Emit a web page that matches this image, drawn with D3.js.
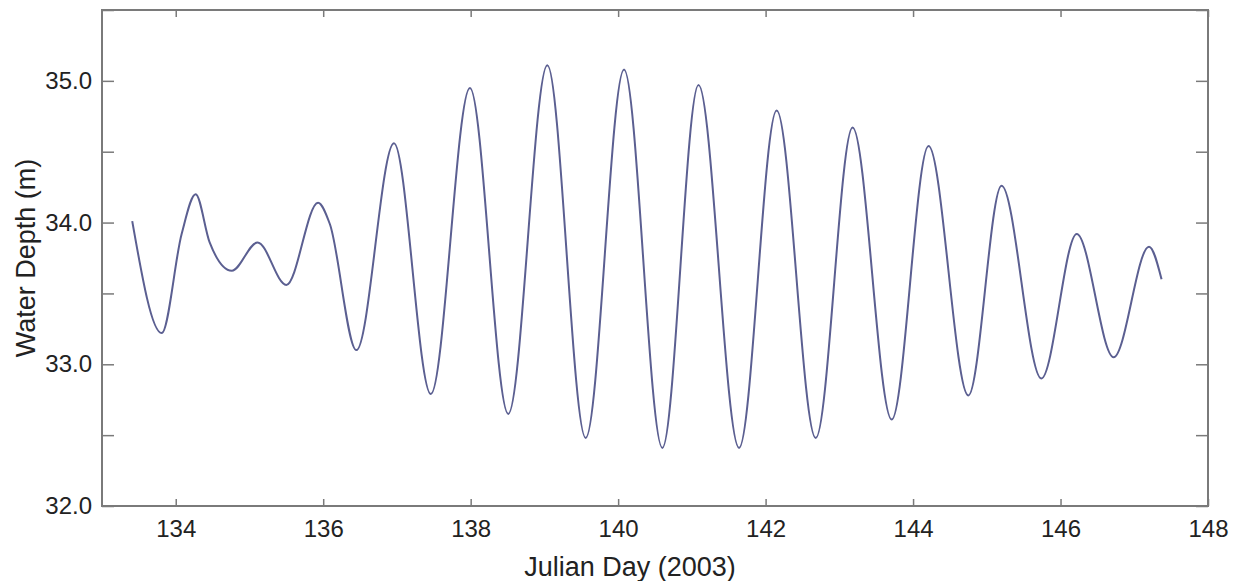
<!DOCTYPE html>
<html>
<head>
<meta charset="utf-8">
<script src="https://cdn.jsdelivr.net/npm/d3@7"></script>
<style>
    body { margin: 0; background: #fff; }
    text { font-family: "Liberation Sans", Arial, sans-serif; fill: #222; }
</style>
</head>
<body>
<svg id="drawing_region"></svg>
<script>
// julian day of each sample (extrema + a few shoulders)
const days = [
    133.41, 133.81, 134.08, 134.27, 134.46, 134.76, 135.11, 135.50, 135.93, 136.09,
    136.45, 136.96, 137.46, 137.99, 138.51, 139.04, 139.56, 140.08, 140.60, 141.09,
    141.64, 142.15, 142.68, 143.18, 143.71, 144.21, 144.75, 145.20, 145.74, 146.22,
    146.72, 147.20, 147.37
];
// water depth (m)
const depths = [
    34.01, 33.22, 33.92, 34.20, 33.86, 33.66, 33.86, 33.56, 34.14, 33.99,
    33.10, 34.56, 32.79, 34.95, 32.65, 35.11, 32.48, 35.08, 32.41, 34.97,
    32.41, 34.79, 32.48, 34.67, 32.61, 34.54, 32.78, 34.26, 32.90, 33.92,
    33.05, 33.83, 33.60
];
const xTicks = [134, 136, 138, 140, 142, 144, 146, 148];
const yTicks = [32.0, 32.5, 33.0, 33.5, 34.0, 34.5, 35.0, 35.5];
const yLabels = [32.0, 33.0, 34.0, 35.0];

const data = days.map((d, i) => ({ day: d, depth: depths[i] }));

const config = {
    width: 1244,
    height: 581,
    margin: { top: 10, right: 36, bottom: 75, left: 102 }
};

const svg = d3.select('#drawing_region')
    .attr('width', config.width)
    .attr('height', config.height);

const inner_width = config.width - config.margin.left - config.margin.right;
const inner_height = config.height - config.margin.top - config.margin.bottom;

const chart = svg.append('g')
    .attr('transform', `translate(${config.margin.left}, ${config.margin.top})`);

const xscale = d3.scaleLinear().domain([133, 148]).range([0, inner_width]);
const yscale = d3.scaleLinear().domain([32, 35.5]).range([inner_height, 0]);

const axisColor = '#7a7a7a';

// ticks, all pointing inward
const xaxis = d3.axisBottom(xscale).tickValues(xTicks).tickSize(-7).tickPadding(14).tickFormat(d3.format('d'));
const xaxisTop = d3.axisTop(xscale).tickValues(xTicks).tickSize(-7).tickFormat('');
const yaxis = d3.axisLeft(yscale).tickValues(yTicks).tickSize(-12).tickPadding(10)
    .tickFormat(d => yLabels.includes(d) ? d3.format('.1f')(d) : '');
const yaxisRight = d3.axisRight(yscale).tickValues(yTicks).tickSize(-12).tickFormat('');

function styleAxis(g) {
    g.select('.domain').remove();
    g.selectAll('.tick line').attr('stroke', axisColor).attr('stroke-width', 1.5);
    g.selectAll('.tick text').attr('font-size', 24).attr('fill', '#222')
        .attr('font-family', '"Liberation Sans", Arial, sans-serif');
}

chart.append('g').attr('transform', `translate(0, ${inner_height})`).call(xaxis).call(styleAxis);
chart.append('g').call(xaxisTop).call(styleAxis);
chart.append('g').call(yaxis).call(styleAxis);
chart.append('g').attr('transform', `translate(${inner_width}, 0)`).call(yaxisRight).call(styleAxis);

chart.append('rect')
    .attr('x', 0).attr('y', 0)
    .attr('width', inner_width).attr('height', inner_height)
    .attr('fill', 'none')
    .attr('stroke', axisColor)
    .attr('stroke-width', 2);

const line = d3.line()
    .x(d => xscale(d.day))
    .y(d => yscale(d.depth))
    .curve(d3.curveMonotoneX);

chart.append('path')
    .datum(data)
    .attr('d', line)
    .attr('fill', 'none')
    .attr('stroke', '#5b5f91')
    .attr('stroke-width', 2);

svg.append('text')
    .attr('x', 630)
    .attr('y', 576)
    .attr('text-anchor', 'middle')
    .attr('font-size', 27)
    .text('Julian Day (2003)');

svg.append('text')
    .attr('transform', `translate(35, ${config.margin.top + inner_height / 2}) rotate(-90)`)
    .attr('text-anchor', 'middle')
    .attr('font-size', 27)
    .text('Water Depth (m)');
</script>
</body>
</html>
